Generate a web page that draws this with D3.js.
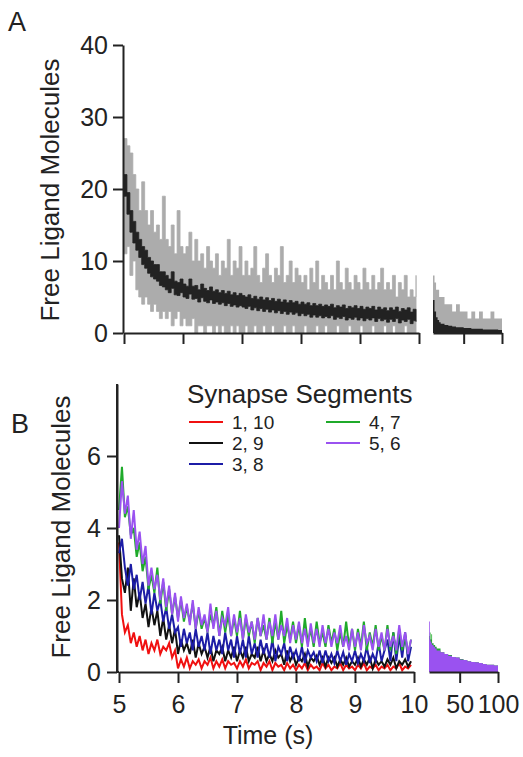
<!DOCTYPE html>
<html>
<head>
<meta charset="utf-8">
<script src="https://cdn.jsdelivr.net/npm/d3@7"></script>
<style>
  body { margin: 0; background: #fff; }
  svg { display: block; font-family: "Liberation Sans", Arial, sans-serif; }
</style>
</head>
<body>
<div id="chart"></div>
<script>
// sampling of the 5 - 10 s part of every trace (one bin per 0.05 s)
const t0 = 5;
const dt = 0.05;
// times of the long 10 - 100 s tail
const tailTimesA = [10, 12, 14, 16, 18, 20, 25, 30, 35, 40, 45, 50, 55, 60, 65, 70, 75, 80, 85, 90, 95, 100];
const tailTimesB = [10, 11, 12, 13, 14, 16, 18, 20, 25, 30, 35, 40, 45, 50, 55, 60, 65, 70, 75, 80, 85, 90, 95, 100];

// panel A: one run (grey), highest and lowest count in each bin
const aSingleHigh = [27, 26, 25, 22, 20, 17, 21, 17, 15, 17,
  14, 15, 13, 19, 13, 12, 15, 11, 17, 12,
  11, 12, 14, 10, 13, 10, 11, 9, 12, 10,
  9, 11, 8, 10, 9, 13, 8, 10, 9, 12,
  8, 10, 8, 9, 12, 8, 7, 9, 11, 8,
  7, 9, 8, 12, 7, 8, 10, 7, 9, 8,
  7, 8, 6, 9, 7, 10, 6, 8, 7, 6,
  8, 6, 10, 7, 6, 9, 7, 6, 8, 7,
  6, 9, 7, 6, 8, 6, 7, 9, 6, 7,
  6, 8, 5, 7, 6, 8, 5, 6, 5, 8];
const aSingleLow = [11, 12, 8, 10, 6, 5, 4, 5, 4, 3,
  4, 3, 2, 3, 2, 3, 1, 2, 3, 1,
  2, 1, 1, 2, 0, 1, 1, 0, 1, 1,
  0, 1, 0, 1, 0, 0, 1, 0, 1, 0,
  0, 1, 0, 0, 1, 0, 0, 1, 0, 0,
  1, 0, 0, 0, 1, 0, 0, 1, 0, 0,
  0, 1, 0, 0, 0, 1, 0, 0, 1, 0,
  0, 0, 1, 0, 0, 0, 1, 0, 0, 0,
  1, 0, 0, 0, 1, 0, 0, 0, 1, 0,
  0, 1, 0, 0, 0, 1, 0, 0, 0, 1];
// panel A: mean over runs (black), highest and lowest value in each bin
const aMeanHigh = [22, 19.5, 17, 15.5, 14, 13, 12, 11.5, 10.5, 10,
  9.5, 9.5, 8.5, 8.5, 8, 7.5, 8.5, 7.2, 7, 7.5,
  6.8, 6.5, 7.5, 6.5, 6.6, 6.0, 6.8, 6.2, 5.9, 6.4,
  5.8, 6.0, 5.6, 5.9, 5.5, 5.8, 5.3, 5.6, 5.2, 5.5,
  5.2, 5.0, 5.3, 4.8, 5.1, 4.7, 5.0, 4.6, 4.9, 4.5,
  4.8, 4.4, 4.7, 4.3, 4.6, 4.2, 4.5, 4.2, 4.4, 4.0,
  4.3, 4.0, 4.2, 3.8, 4.1, 3.8, 4.0, 3.7, 3.9, 3.7,
  4.0, 3.5, 3.8, 3.6, 3.9, 3.4, 3.7, 3.5, 3.8, 3.4,
  3.7, 3.3, 3.6, 3.4, 3.7, 3.2, 3.6, 3.3, 3.5, 3.1,
  3.5, 3.2, 3.6, 3.0, 3.4, 3.2, 3.5, 2.9, 3.3, 3.2];
const aMeanLow = [19, 16.5, 14, 12.5, 11.5, 10.5, 9.5, 9, 8.3, 7.8,
  7.5, 7.2, 6.6, 6.4, 6, 5.6, 6.2, 5.3, 5.2, 5.6,
  5.0, 4.8, 5.4, 4.7, 4.8, 4.3, 4.9, 4.4, 4.2, 4.6,
  4.1, 4.3, 4.0, 4.2, 3.8, 4.1, 3.7, 3.9, 3.6, 3.8,
  3.6, 3.4, 3.7, 3.2, 3.5, 3.1, 3.4, 3.0, 3.3, 2.9,
  3.2, 2.8, 3.1, 2.7, 3.0, 2.6, 2.9, 2.6, 2.8, 2.4,
  2.7, 2.4, 2.6, 2.2, 2.5, 2.2, 2.4, 2.1, 2.3, 2.1,
  2.4, 1.9, 2.2, 2.0, 2.3, 1.8, 2.1, 1.9, 2.2, 1.8,
  2.1, 1.7, 2.0, 1.8, 2.1, 1.6, 2.0, 1.7, 1.9, 1.5,
  1.9, 1.6, 2.0, 1.4, 1.8, 1.6, 1.9, 1.3, 1.7, 1.6];
const aSingleTail = [8, 7, 6, 6, 5, 5, 4, 4, 3, 4, 3, 3, 2, 3, 2, 3, 2, 2, 3, 2, 2, 2];
const aMeanTail = [4.6, 3.0, 2.2, 1.8, 1.5, 1.3, 1.1, 1.0, 0.9, 0.8, 0.8, 0.7, 0.7, 0.6, 0.6, 0.6, 0.5, 0.5, 0.5, 0.5, 0.4, 0.4];

// panel B: mean free ligand per pair of synapse segments
const segNames = ["1, 10", "2, 9", "3, 8", "4, 7", "5, 6"];
const seg1_10 = [3.6, 1.6, 1.1, 1.3, 0.8, 1.1, 0.7, 1.0, 0.6, 0.9,
  0.5, 0.8, 0.6, 0.9, 0.5, 0.7, 0.6, 0.8, 0.4, 0.6,
  0.1, 0.35, 0.15, 0.4, 0.1, 0.3, 0.2, 0.35, 0.1, 0.3,
  0.2, 0.4, 0.1, 0.3, 0.15, 0.35, 0.1, 0.3, 0.2, 0.25,
  0.1, 0.3, 0.15, 0.35, 0.1, 0.25, 0.2, 0.3, 0.05, 0.25,
  0.15, 0.3, 0.05, 0.25, 0.15, 0.2, 0.05, 0.25, 0.1, 0.2,
  0.05, 0.2, 0.1, 0.25, 0.05, 0.2, 0.1, 0.15, 0.05, 0.25,
  0.1, 0.2, 0.05, 0.15, 0.1, 0.25, 0.05, 0.2, 0.1, 0.15,
  0.05, 0.2, 0.1, 0.25, 0.05, 0.15, 0.1, 0.2, 0.05, 0.15,
  0.1, 0.2, 0.05, 0.15, 0.1, 0.25, 0.05, 0.15, 0.1, 0.2];
const seg2_9 = [3.8, 2.6, 2.2, 2.9, 1.7, 2.6, 1.8, 2.2, 1.5, 1.9,
  1.25, 1.8, 1.3, 1.7, 1.0, 1.5, 0.9, 1.3, 0.8, 1.2,
  0.5, 0.9, 0.6, 0.8, 0.5, 0.9, 0.4, 0.8, 0.5, 0.7,
  0.4, 0.7, 0.3, 0.6, 0.5, 0.7, 0.3, 0.6, 0.4, 0.7,
  0.3, 0.6, 0.4, 0.7, 0.3, 0.5, 0.4, 0.7, 0.3, 0.6,
  0.3, 0.5, 0.3, 0.6, 0.4, 0.5, 0.2, 0.6, 0.3, 0.5,
  0.2, 0.4, 0.3, 0.5, 0.15, 0.4, 0.3, 0.45, 0.2, 0.4,
  0.15, 0.4, 0.25, 0.4, 0.15, 0.35, 0.2, 0.4, 0.15, 0.3,
  0.2, 0.4, 0.15, 0.35, 0.2, 0.4, 0.1, 0.35, 0.2, 0.3,
  0.15, 0.35, 0.2, 0.4, 0.1, 0.3, 0.2, 0.35, 0.15, 0.3];
const seg3_8 = [3.3, 3.7, 2.9, 2.4, 3.0, 2.3, 2.7, 2.0, 2.5, 1.9,
  2.4, 1.6, 2.2, 1.7, 2.0, 1.4, 1.8, 1.2, 1.6, 1.1,
  1.25, 0.7, 1.2, 0.8, 1.1, 0.6, 1.2, 0.7, 1.0, 0.6,
  1.1, 0.5, 1.0, 0.6, 0.9, 0.5, 1.1, 0.6, 0.9, 0.4,
  1.0, 0.5, 0.9, 0.4, 1.0, 0.5, 0.8, 0.4, 0.9, 0.5,
  0.8, 0.4, 0.9, 0.3, 0.7, 0.5, 0.8, 0.3, 0.7, 0.4,
  0.6, 0.3, 0.7, 0.25, 0.6, 0.4, 0.55, 0.3, 0.6, 0.25,
  0.6, 0.3, 0.5, 0.25, 0.6, 0.3, 0.55, 0.2, 0.5, 0.3,
  0.6, 0.25, 0.5, 0.3, 0.7, 0.25, 0.5, 0.3, 0.8, 0.3,
  0.6, 0.9, 0.3, 1.1, 0.3, 1.0, 0.4, 1.1, 0.3, 0.7];
const seg4_7 = [4.5, 5.7, 4.3, 4.6, 3.8, 4.0, 3.2, 3.6, 2.8, 3.2,
  2.3, 2.7, 2.2, 2.9, 1.9, 2.5, 1.7, 2.3, 1.6, 2.1,
  1.5, 2.0, 1.4, 1.8, 1.4, 1.9, 1.2, 1.7, 1.2, 1.5,
  1.1, 1.6, 1.3, 1.8, 1.0, 1.7, 1.1, 1.6, 1.0, 1.5,
  1.0, 1.7, 0.9, 1.5, 1.0, 1.4, 0.8, 1.5, 1.0, 1.3,
  0.9, 1.5, 0.8, 1.4, 0.9, 1.7, 0.8, 1.3, 0.9, 1.4,
  0.8, 1.3, 0.7, 1.5, 0.8, 1.2, 0.7, 1.4, 0.8, 1.1,
  0.7, 1.3, 0.8, 1.2, 0.6, 1.1, 0.7, 1.4, 0.7, 1.2,
  0.6, 1.2, 0.7, 1.4, 0.6, 1.1, 0.7, 1.3, 0.6, 1.0,
  0.6, 1.3, 0.6, 1.1, 0.5, 1.2, 0.6, 1.0, 0.5, 0.9];
const seg5_6 = [4.0, 5.3, 4.4, 4.9, 3.7, 4.5, 3.4, 3.9, 3.0, 3.5,
  2.4, 2.9, 2.3, 2.7, 2.0, 2.6, 1.8, 2.4, 1.6, 2.2,
  1.4, 2.1, 1.5, 1.9, 1.3, 2.0, 1.2, 1.8, 1.3, 1.6,
  1.1, 1.9, 1.2, 1.7, 1.0, 1.5, 1.3, 1.8, 1.0, 1.6,
  1.1, 1.5, 0.9, 1.6, 1.1, 1.4, 0.9, 1.5, 1.0, 1.6,
  0.9, 1.4, 1.0, 1.6, 0.9, 1.3, 1.0, 1.5, 0.8, 1.3,
  0.9, 1.4, 0.8, 1.2, 0.7, 1.35, 0.8, 1.2, 0.7, 1.3,
  0.8, 1.2, 0.7, 1.1, 0.8, 1.3, 0.7, 1.0, 0.6, 1.2,
  0.7, 1.1, 0.6, 1.3, 0.8, 1.0, 0.6, 1.2, 0.7, 1.1,
  0.6, 1.2, 0.7, 1.0, 0.6, 1.3, 0.7, 1.1, 0.5, 0.9];
const seg1_10Tail = [0.3, 0.15, 0.1, 0.1, 0.1, 0.08, 0.07, 0.06, 0.05, 0.05, 0.04, 0.04, 0.03, 0.03, 0.03, 0.03, 0.02, 0.02, 0.02, 0.02, 0.02, 0.02, 0.02, 0.02];
const seg2_9Tail = [0.5, 0.3, 0.25, 0.2, 0.2, 0.18, 0.15, 0.14, 0.12, 0.1, 0.1, 0.09, 0.08, 0.08, 0.07, 0.07, 0.06, 0.06, 0.05, 0.05, 0.05, 0.05, 0.04, 0.04];
const seg3_8Tail = [0.7, 0.45, 0.4, 0.35, 0.33, 0.3, 0.28, 0.26, 0.22, 0.2, 0.18, 0.17, 0.16, 0.15, 0.14, 0.13, 0.12, 0.11, 0.1, 0.1, 0.09, 0.09, 0.08, 0.08];
const seg4_7Tail = [1.0, 1.1, 0.9, 1.05, 0.8, 0.75, 0.7, 0.65, 0.55, 0.5, 0.47, 0.42, 0.4, 0.36, 0.33, 0.3, 0.28, 0.27, 0.25, 0.22, 0.2, 0.2, 0.18, 0.15];
const seg5_6Tail = [1.4, 0.9, 0.85, 0.8, 0.75, 0.7, 0.65, 0.6, 0.55, 0.5, 0.45, 0.42, 0.4, 0.35, 0.33, 0.3, 0.28, 0.27, 0.25, 0.22, 0.2, 0.2, 0.18, 0.15];

const segSeries = [seg1_10, seg2_9, seg3_8, seg4_7, seg5_6];
const segTails = [seg1_10Tail, seg2_9Tail, seg3_8Tail, seg4_7Tail, seg5_6Tail];
const segColors = ["#f01010", "#111111", "#1c1ca6", "#1faa2a", "#9a52f0"];

const ticksA = [0, 10, 20, 30, 40];
const ticksB = [0, 2, 4, 6];
const timeTicks = [5, 6, 7, 8, 9, 10];
const tailTicks = [50, 100];

function init() {
    let w = 523;
    let h = 757;

    let svg = d3.select("#chart")
        .append("svg")
        .attr("width", w)
        .attr("height", h);

    // pair every value with its time
    const toPts = vals => vals.map((v, i) => [t0 + i * dt, v]);
    const toBand = (hi, lo) => hi.map((v, i) => [t0 + i * dt, lo[i], v]);
    const toTail = (times, vals) => vals.map((v, i) => [times[i], v]);

    function styleAxis(g) {
        g.selectAll("path, line").attr("stroke", "#222").attr("stroke-width", 2);
        g.selectAll("text").attr("fill", "#222").style("font-size", "25px");
    }

    // ---------- panel A ----------
    let xA = d3.scaleLinear().domain([5, 10]).range([124, 419]);
    let xAt = d3.scaleLinear().domain([10, 100]).range([433, 502]);
    let yA = d3.scaleLinear().domain([0, 40]).range([333, 45]);

    let bandA = d3.area()
        .x(d => xA(d[0]))
        .y0(d => yA(d[1]))
        .y1(d => yA(d[2]))
        .curve(d3.curveStepAfter);
    let areaAt = d3.area().x(d => xAt(d[0])).y0(yA(0)).y1(d => yA(d[1])).curve(d3.curveStepAfter);

    let gA = svg.append("g");
    gA.append("path")
        .attr("d", bandA(toBand(aSingleHigh, aSingleLow)))
        .attr("fill", "#acacac")
        .attr("stroke", "#acacac")
        .attr("stroke-width", 0.8);
    gA.append("path")
        .attr("d", bandA(toBand(aMeanHigh, aMeanLow)))
        .attr("fill", "#222")
        .attr("stroke", "#222")
        .attr("stroke-width", 0.8);
    gA.append("path")
        .attr("d", areaAt(toTail(tailTimesA, aSingleTail)))
        .attr("fill", "#acacac");
    gA.append("path")
        .attr("d", areaAt(toTail(tailTimesA, aMeanTail)))
        .attr("fill", "#222");

    gA.append("g")
        .attr("transform", "translate(123,0)")
        .call(d3.axisLeft(yA).tickValues(ticksA).tickSize(10).tickSizeOuter(0).tickPadding(5))
        .call(styleAxis);
    gA.append("g")
        .attr("transform", "translate(0,333)")
        .call(d3.axisBottom(xA).tickValues(timeTicks).tickSize(11).tickSizeOuter(0).tickFormat(""))
        .call(styleAxis);
    gA.append("g")
        .attr("transform", "translate(0,333)")
        .call(d3.axisBottom(xAt).tickValues(tailTicks).tickSize(11).tickSizeOuter(0).tickFormat(""))
        .call(styleAxis);

    svg.append("text")
        .attr("x", 8).attr("y", 31)
        .style("font-size", "27px").attr("fill", "#222")
        .text("A");
    svg.append("text")
        .attr("transform", "translate(59,190) rotate(-90)")
        .attr("text-anchor", "middle")
        .style("font-size", "26px").attr("fill", "#222")
        .text("Free Ligand Molecules");

    // ---------- panel B ----------
    let xB = d3.scaleLinear().domain([5, 10]).range([119, 414]);
    let xBt = d3.scaleLinear().domain([10, 100]).range([429, 498]);
    let yB = d3.scaleLinear().domain([0, 8]).range([672, 384]);

    let lineB = d3.line().x(d => xB(d[0])).y(d => yB(d[1]));
    let areaBt = d3.area().x(d => xBt(d[0])).y0(yB(0)).y1(d => yB(d[1])).curve(d3.curveStepAfter);

    let gB = svg.append("g");
    gB.selectAll(".trace")
        .data(segSeries)
        .enter()
        .append("path")
        .attr("class", "trace")
        .attr("d", d => lineB(toPts(d)))
        .attr("fill", "none")
        .attr("stroke", (d, i) => segColors[i])
        .attr("stroke-width", 2);
    gB.selectAll(".tail")
        .data(segTails)
        .enter()
        .append("path")
        .attr("class", "tail")
        .attr("d", d => areaBt(toTail(tailTimesB, d)))
        .attr("fill", (d, i) => segColors[i]);

    gB.append("g")
        .attr("transform", "translate(117,0)")
        .call(d3.axisLeft(yB).tickValues(ticksB).tickSize(10).tickSizeOuter(0).tickPadding(6))
        .call(styleAxis);
    gB.append("g")
        .attr("transform", "translate(0,672)")
        .call(d3.axisBottom(xB).tickValues(timeTicks).tickSize(11).tickSizeOuter(0).tickPadding(12).tickFormat(d3.format("d")))
        .call(styleAxis);
    gB.append("g")
        .attr("transform", "translate(0,672)")
        .call(d3.axisBottom(xBt).tickValues(tailTicks).tickSize(11).tickSizeOuter(0).tickPadding(12).tickFormat(d3.format("d")))
        .call(styleAxis);
    // y axis line runs up to the top of the domain
    gB.append("line")
        .attr("x1", 117).attr("x2", 117)
        .attr("y1", yB(8)).attr("y2", yB(0))
        .attr("stroke", "#222").attr("stroke-width", 2);
    gB.append("line")
        .attr("x1", 117).attr("x2", 119)
        .attr("y1", 672).attr("y2", 672)
        .attr("stroke", "#222").attr("stroke-width", 2);

    svg.append("text")
        .attr("x", 11).attr("y", 433)
        .style("font-size", "27px").attr("fill", "#222")
        .text("B");
    svg.append("text")
        .attr("transform", "translate(70,527) rotate(-90)")
        .attr("text-anchor", "middle")
        .style("font-size", "26px").attr("fill", "#222")
        .text("Free Ligand Molecules");
    svg.append("text")
        .attr("x", 268).attr("y", 744)
        .attr("text-anchor", "middle")
        .style("font-size", "25px").attr("fill", "#222")
        .text("Time (s)");

    // legend
    let leg = svg.append("g");
    leg.append("text")
        .attr("x", 187).attr("y", 403)
        .style("font-size", "26px").attr("fill", "#222")
        .text("Synapse Segments");
    let items = leg.selectAll(".item")
        .data(segNames)
        .enter()
        .append("g")
        .attr("class", "item")
        .attr("transform", (d, i) => i < 3
            ? "translate(189," + (422 + i * 21) + ")"
            : "translate(326," + (422 + (i - 3) * 21) + ")");
    items.append("line")
        .attr("x1", 0).attr("x2", 34)
        .attr("stroke", (d, i) => segColors[i])
        .attr("stroke-width", 2);
    items.append("text")
        .attr("x", 43).attr("y", 7)
        .style("font-size", "19px").attr("fill", "#222")
        .text(d => d);
}

window.onload = init;
</script>
</body>
</html>
